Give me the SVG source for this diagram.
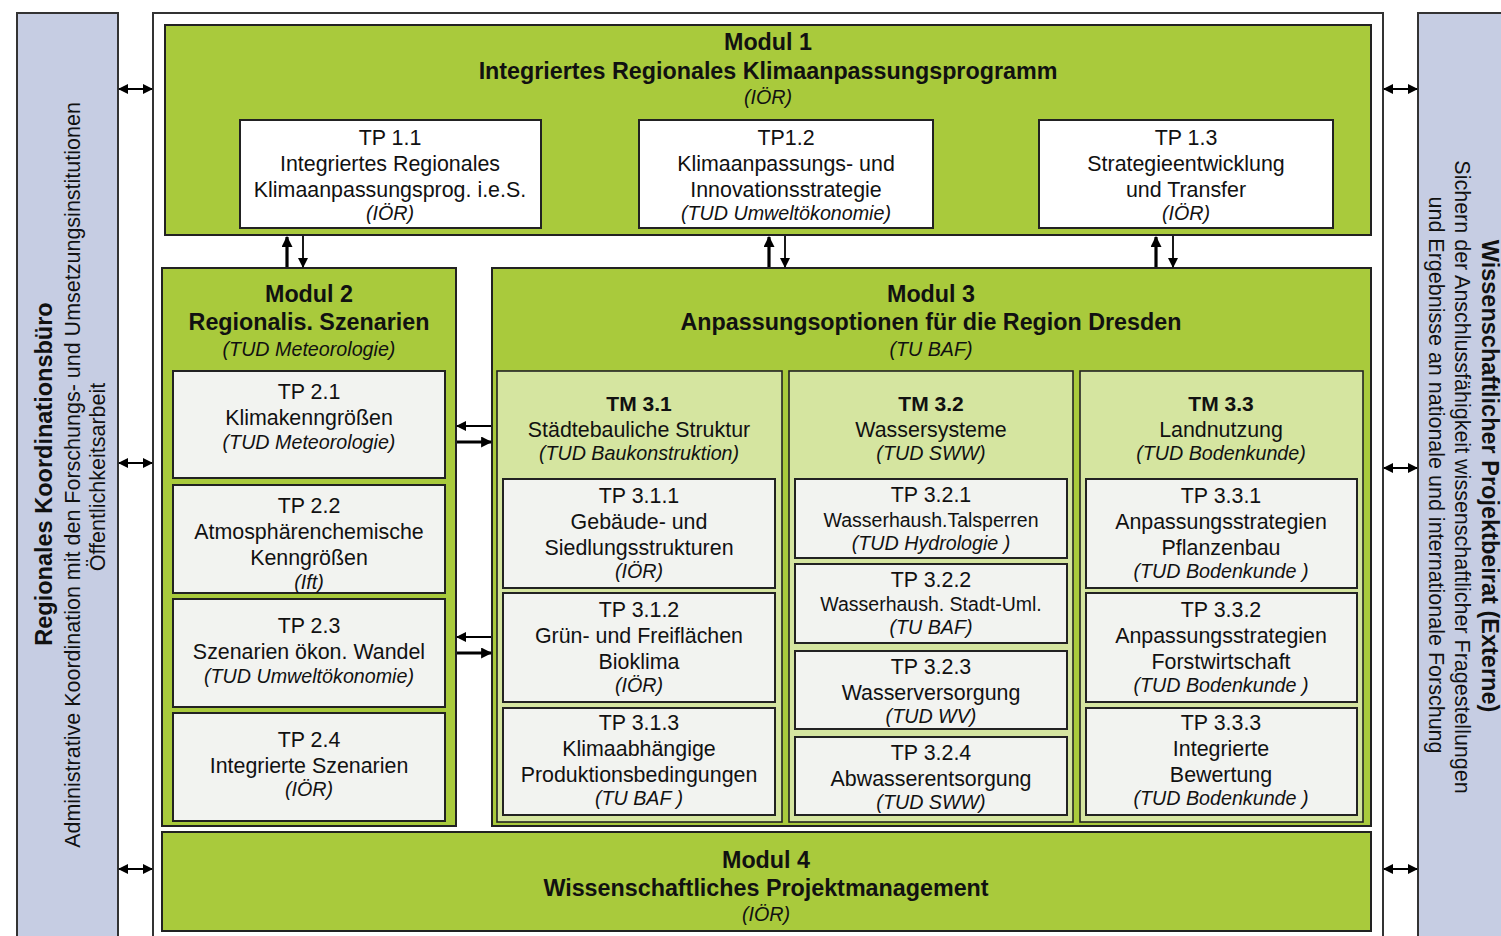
<svg xmlns="http://www.w3.org/2000/svg" width="1501" height="936" viewBox="0 0 1501 936">
<style>
text{font-family:"Liberation Sans",Arial,sans-serif;fill:#111;text-anchor:middle}
.t{font-size:21.4px}
.ts{font-size:19.5px}
.ti{font-size:19.7px;font-style:italic}
.hb{font-size:23.3px;font-weight:bold}
.tm{font-size:21px;font-weight:bold}
.sb{font-size:23.5px;font-weight:bold}
.sr{font-size:21.5px}
.side{fill:#c6cde3;stroke:#333;stroke-width:2}
.frame{fill:#fff;stroke:#333;stroke-width:2}
.mod{fill:#a9ca3c;stroke:#222;stroke-width:2}
.tmb{fill:#d5e5a0;stroke:#222;stroke-width:1.6}
.tpw{fill:#fff;stroke:#222;stroke-width:2}
.tpg{fill:#f2f3f0;stroke:#222;stroke-width:2}
.c1{stroke:#000;stroke-width:1.8;fill:none}
.c2{stroke:#000;stroke-width:3.2;fill:none}
</style>
<defs>
<marker id="ah" viewBox="0 0 10 10" refX="9" refY="5" markerWidth="11" markerHeight="10" markerUnits="userSpaceOnUse" orient="auto-start-reverse"><path d="M0,0 L10,5 L0,10 z" fill="#000"/></marker>
<marker id="ahb" viewBox="0 0 10 10" refX="9" refY="5" markerWidth="11" markerHeight="11" markerUnits="userSpaceOnUse" orient="auto-start-reverse"><path d="M0,0 L10,5 L0,10 z" fill="#000"/></marker>
</defs>
<rect width="1501" height="936" fill="#fff"/>

<g id="left-sidebar">
<rect class="side" x="17" y="13" width="101" height="930"/>
<text class="sb" transform="translate(52,474) rotate(-90)">Regionales Koordinationsbüro</text>
<text class="sr" transform="translate(80,475) rotate(-90)">Administrative Koordination mit den Forschungs- und Umsetzungsinstitutionen</text>
<text class="sr" transform="translate(105,477) rotate(-90)">Öffentlichkeitsarbeit</text>
</g>

<g id="right-sidebar">
<rect class="side" x="1418" y="13" width="90" height="930"/>
<text class="sb" transform="translate(1482,476) rotate(90)">Wissenschaftlicher Projektbeirat (Externe)</text>
<text class="sr" transform="translate(1455,477) rotate(90)">Sichern der Anschlussfähigkeit wissenschaftlicher Fragestellungen</text>
<text class="sr" transform="translate(1429,475) rotate(90)">und Ergebnisse an nationale und internationale Forschung</text>
</g>

<g id="frame">
<rect class="frame" x="153" y="13" width="1230" height="930"/>
</g>

<g id="modul1">
<rect class="mod" x="165" y="25" width="1206" height="210"/>
<text class="hb" x="768" y="50">Modul 1</text>
<text class="hb" x="768" y="79">Integriertes Regionales Klimaanpassungsprogramm</text>
<text class="ti" x="768" y="104">(IÖR)</text>
</g>
<g id="tp11">
<rect class="tpw" x="240" y="120" width="301" height="108"/>
<text class="t" x="390" y="145">TP 1.1</text>
<text class="t" x="390" y="171">Integriertes Regionales</text>
<text class="t" x="390" y="197">Klimaanpassungsprog. i.e.S.</text>
<text class="ti" x="390" y="220">(IÖR)</text>
</g>
<g id="tp12">
<rect class="tpw" x="639" y="120" width="294" height="108"/>
<text class="t" x="786" y="145">TP1.2</text>
<text class="t" x="786" y="171">Klimaanpassungs- und</text>
<text class="t" x="786" y="197">Innovationsstrategie</text>
<text class="ti" x="786" y="220">(TUD Umweltökonomie)</text>
</g>
<g id="tp13">
<rect class="tpw" x="1039" y="120" width="294" height="108"/>
<text class="t" x="1186" y="145">TP 1.3</text>
<text class="t" x="1186" y="171">Strategieentwicklung</text>
<text class="t" x="1186" y="197">und Transfer</text>
<text class="ti" x="1186" y="220">(IÖR)</text>
</g>

<g id="modul2">
<rect class="mod" x="162" y="268" width="294" height="558"/>
<text class="hb" x="309" y="302">Modul 2</text>
<text class="hb" x="309" y="330">Regionalis. Szenarien</text>
<text class="ti" x="309" y="356">(TUD Meteorologie)</text>
</g>
<g id="tp21">
<rect class="tpg" x="173" y="371" width="272" height="107"/>
<text class="t" x="309" y="399">TP 2.1</text>
<text class="t" x="309" y="425">Klimakenngrößen</text>
<text class="ti" x="309" y="449">(TUD Meteorologie)</text>
</g>
<g id="tp22">
<rect class="tpg" x="173" y="485" width="272" height="108"/>
<text class="t" x="309" y="513">TP 2.2</text>
<text class="t" x="309" y="539">Atmosphärenchemische</text>
<text class="t" x="309" y="565">Kenngrößen</text>
<text class="ti" x="309" y="589">(Ift)</text>
</g>
<g id="tp23">
<rect class="tpg" x="173" y="599" width="272" height="108"/>
<text class="t" x="309" y="633">TP 2.3</text>
<text class="t" x="309" y="659">Szenarien ökon. Wandel</text>
<text class="ti" x="309" y="683">(TUD Umweltökonomie)</text>
</g>
<g id="tp24">
<rect class="tpg" x="173" y="713" width="272" height="108"/>
<text class="t" x="309" y="747">TP 2.4</text>
<text class="t" x="309" y="773">Integrierte Szenarien</text>
<text class="ti" x="309" y="796">(IÖR)</text>
</g>

<g id="modul3">
<rect class="mod" x="492" y="268" width="879" height="558"/>
<text class="hb" x="931" y="302">Modul 3</text>
<text class="hb" x="931" y="330">Anpassungsoptionen für die Region Dresden</text>
<text class="ti" x="931" y="356">(TU BAF)</text>
</g>
<g id="tm31">
<rect class="tmb" x="497" y="371" width="285" height="451"/>
<text class="tm" x="639" y="411">TM 3.1</text>
<text class="t" x="639" y="437">Städtebauliche Struktur</text>
<text class="ti" x="639" y="460">(TUD Baukonstruktion)</text>
</g>
<g id="tp311">
<rect class="tpg" x="503" y="479" width="272" height="109"/>
<text class="t" x="639" y="503">TP 3.1.1</text>
<text class="t" x="639" y="529">Gebäude- und</text>
<text class="t" x="639" y="555">Siedlungsstrukturen</text>
<text class="ti" x="639" y="578">(IÖR)</text>
</g>
<g id="tp312">
<rect class="tpg" x="503" y="593" width="272" height="109"/>
<text class="t" x="639" y="617">TP 3.1.2</text>
<text class="t" x="639" y="643">Grün- und Freiflächen</text>
<text class="t" x="639" y="669">Bioklima</text>
<text class="ti" x="639" y="692">(IÖR)</text>
</g>
<g id="tp313">
<rect class="tpg" x="503" y="708" width="272" height="107"/>
<text class="t" x="639" y="730">TP 3.1.3</text>
<text class="t" x="639" y="756">Klimaabhängige</text>
<text class="t" x="639" y="782">Produktionsbedingungen</text>
<text class="ti" x="639" y="805">(TU BAF )</text>
</g>

<g id="tm32">
<rect class="tmb" x="789" y="371" width="284" height="451"/>
<text class="tm" x="931" y="411">TM 3.2</text>
<text class="t" x="931" y="437">Wassersysteme</text>
<text class="ti" x="931" y="460">(TUD SWW)</text>
</g>
<g id="tp321">
<rect class="tpg" x="795" y="479" width="272" height="79"/>
<text class="t" x="931" y="502">TP 3.2.1</text>
<text class="ts" x="931" y="527">Wasserhaush.Talsperren</text>
<text class="ti" x="931" y="550">(TUD Hydrologie )</text>
</g>
<g id="tp322">
<rect class="tpg" x="795" y="564" width="272" height="79"/>
<text class="t" x="931" y="587">TP 3.2.2</text>
<text class="ts" x="931" y="611">Wasserhaush. Stadt-Uml.</text>
<text class="ti" x="931" y="634">(TU BAF)</text>
</g>
<g id="tp323">
<rect class="tpg" x="795" y="651" width="272" height="78"/>
<text class="t" x="931" y="674">TP 3.2.3</text>
<text class="t" x="931" y="700">Wasserversorgung</text>
<text class="ti" x="931" y="723">(TUD WV)</text>
</g>
<g id="tp324">
<rect class="tpg" x="795" y="737" width="272" height="78"/>
<text class="t" x="931" y="760">TP 3.2.4</text>
<text class="t" x="931" y="786">Abwasserentsorgung</text>
<text class="ti" x="931" y="809">(TUD SWW)</text>
</g>

<g id="tm33">
<rect class="tmb" x="1080" y="371" width="283" height="451"/>
<text class="tm" x="1221" y="411">TM 3.3</text>
<text class="t" x="1221" y="437">Landnutzung</text>
<text class="ti" x="1221" y="460">(TUD Bodenkunde)</text>
</g>
<g id="tp331">
<rect class="tpg" x="1086" y="479" width="271" height="109"/>
<text class="t" x="1221" y="503">TP 3.3.1</text>
<text class="t" x="1221" y="529">Anpassungsstrategien</text>
<text class="t" x="1221" y="555">Pflanzenbau</text>
<text class="ti" x="1221" y="578">(TUD Bodenkunde )</text>
</g>
<g id="tp332">
<rect class="tpg" x="1086" y="593" width="271" height="109"/>
<text class="t" x="1221" y="617">TP 3.3.2</text>
<text class="t" x="1221" y="643">Anpassungsstrategien</text>
<text class="t" x="1221" y="669">Forstwirtschaft</text>
<text class="ti" x="1221" y="692">(TUD Bodenkunde )</text>
</g>
<g id="tp333">
<rect class="tpg" x="1086" y="708" width="271" height="107"/>
<text class="t" x="1221" y="730">TP 3.3.3</text>
<text class="t" x="1221" y="756">Integrierte</text>
<text class="t" x="1221" y="782">Bewertung</text>
<text class="ti" x="1221" y="805">(TUD Bodenkunde )</text>
</g>

<g id="modul4">
<rect class="mod" x="162" y="832" width="1209" height="99"/>
<text class="hb" x="766" y="868">Modul 4</text>
<text class="hb" x="766" y="896">Wissenschaftliches Projektmanagement</text>
<text class="ti" x="766" y="921">(IÖR)</text>
</g>

<g id="connectors">
<path class="c1" d="M119,89 H152" marker-start="url(#ah)" marker-end="url(#ah)"/>
<path class="c1" d="M119,463 H152" marker-start="url(#ah)" marker-end="url(#ah)"/>
<path class="c1" d="M119,869 H152" marker-start="url(#ah)" marker-end="url(#ah)"/>
<path class="c1" d="M1384,89 H1417" marker-start="url(#ah)" marker-end="url(#ah)"/>
<path class="c1" d="M1384,468 H1417" marker-start="url(#ah)" marker-end="url(#ah)"/>
<path class="c1" d="M1384,869 H1417" marker-start="url(#ah)" marker-end="url(#ah)"/>

<path class="c2" d="M287,267 V237" marker-end="url(#ahb)"/>
<path class="c1" d="M303,236 V267" marker-end="url(#ah)"/>
<path class="c2" d="M769,267 V237" marker-end="url(#ahb)"/>
<path class="c1" d="M785,236 V267" marker-end="url(#ah)"/>
<path class="c2" d="M1156,267 V237" marker-end="url(#ahb)"/>
<path class="c1" d="M1173,236 V267" marker-end="url(#ah)"/>

<path class="c1" d="M491,426 H457" marker-end="url(#ah)"/>
<path class="c2" d="M457,442 H491" marker-end="url(#ahb)"/>
<path class="c1" d="M491,637 H457" marker-end="url(#ah)"/>
<path class="c2" d="M457,653 H491" marker-end="url(#ahb)"/>
</g>
</svg>
